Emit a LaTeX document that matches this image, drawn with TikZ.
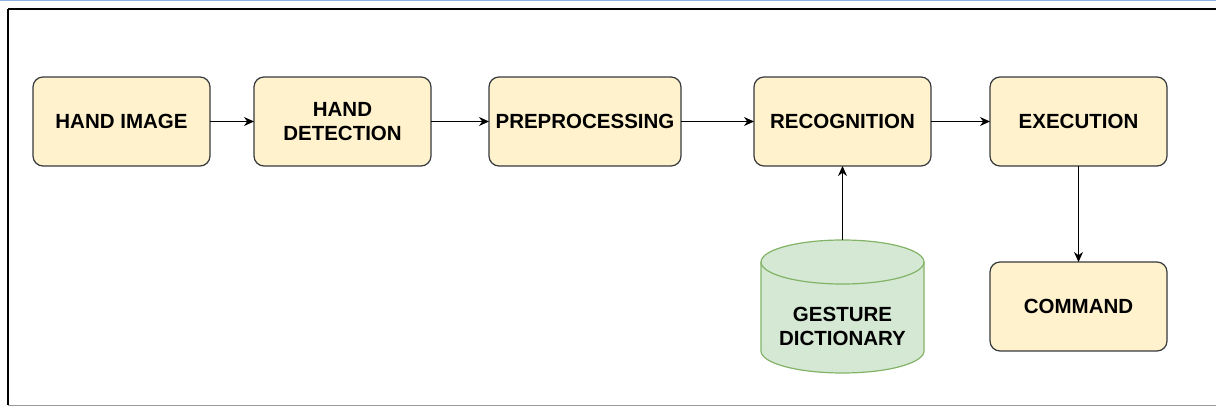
\documentclass[tikz,border=0pt]{standalone}
\usepackage{fontspec}
\setmainfont{Liberation Sans}
\usetikzlibrary{positioning,calc,backgrounds,arrows.meta}
\definecolor{boxfill}{HTML}{FFF2CC}
\definecolor{boxline}{HTML}{36393D}
\definecolor{dbfill}{HTML}{D5E8D4}
\definecolor{dbline}{HTML}{82B366}
\definecolor{topblue}{HTML}{8EB1E3}
\definecolor{framegray}{HTML}{9A9A9A}

\begin{document}
\begin{tikzpicture}[x=1pt, y=1pt,
  boxfont/.style={font=\fontsize{20.5}{23.5}\selectfont\bfseries, align=center},
  stage/.style={draw=boxline, fill=boxfill, line width=1.2pt, rounded corners=10pt,
    minimum width=177pt, minimum height=89pt, inner sep=0pt, outer sep=0pt, boxfont},
  store/.style={minimum width=163pt, minimum height=133pt, inner sep=0pt,
    outer sep=0pt, boxfont},
  storeline/.style={draw=dbline, line width=1.2pt},
  flow/.style={-{Stealth[length=10pt,width=9pt]}, line width=1.3pt}
]
\useasboundingbox (0,0) rectangle (1216,-406);
%frame
\draw[topblue, line width=1.5pt] (0,-0.75) -- (1216,-0.75);
\draw[line width=2pt] (8,-9.5) -- (1216,-9.5);
\draw[line width=2pt] (8,-9.5) -- (8,-405);
\draw[framegray, line width=1pt] (8,-405) -- (1216,-405);

\node[stage] (himg) at (121.5,-121.5) {HAND IMAGE};
\node[stage, right=44pt of himg] (hdet) {HAND\\DETECTION};
\node[stage, right=58pt of hdet, minimum width=192pt] (prep) {PREPROCESSING};
\node[stage, right=73pt of prep] (recog) {RECOGNITION};
\node[stage, right=59pt of recog] (exec) {EXECUTION};
\node[stage, below=96pt of exec] (cmd) {COMMAND};
\node[store, below=74pt of recog] (dict) {\rule{0pt}{54pt}GESTURE\\DICTIONARY};

%cylinder behind the text
\begin{scope}[on background layer]
  \path[storeline, fill=dbfill] ($(dict.north west)+(0,-22)$) -- ($(dict.south west)+(0,22)$)
    arc[start angle=180, end angle=360, x radius=81.5, y radius=22]
    -- ($(dict.north east)+(0,-22)$)
    arc[start angle=0, end angle=180, x radius=81.5, y radius=22] -- cycle;
  \draw[storeline] ($(dict.north west)+(0,-22)$)
    arc[start angle=180, end angle=360, x radius=81.5, y radius=22];
\end{scope}

\draw[flow] (himg) -- (hdet);
\draw[flow] (hdet) -- (prep);
\draw[flow] (prep) -- (recog);
\draw[flow] (recog) -- (exec);
\draw[flow] (dict) -- (recog);
\draw[flow] (exec) -- (cmd);
\end{tikzpicture}
\end{document}
